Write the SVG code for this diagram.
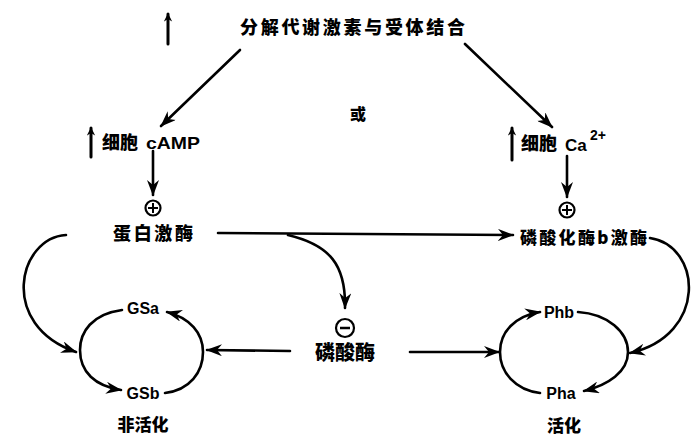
<svg xmlns="http://www.w3.org/2000/svg" width="696" height="440" viewBox="0 0 696 440">
<defs>
<marker id="ah" viewBox="0 0 16 12" refX="15" refY="6" markerWidth="16" markerHeight="12" markerUnits="userSpaceOnUse" orient="auto">
<path d="M0,0 L16,6 L0,12 L5,6 z" fill="#000"/>
</marker>
<marker id="up" viewBox="0 0 10 12" refX="9" refY="5" markerWidth="10" markerHeight="10" markerUnits="userSpaceOnUse" orient="auto">
<path d="M0,0 L10,5 L0,10 L3,5 z" fill="#000"/>
</marker>
</defs>
<style>
.t{font-family:"Noto Sans CJK SC","Noto Sans",sans-serif;font-weight:900;fill:#000}
.l{font-family:"Liberation Sans","DejaVu Sans",sans-serif;font-weight:bold;fill:#000}
.c{fill:none;stroke:#000;stroke-width:2.6;stroke-linecap:round}
.s{fill:none;stroke:#000;stroke-width:3;stroke-linecap:round}
.o{fill:#fff;stroke:#000;stroke-width:2.2}
</style>
<rect width="696" height="440" fill="#fff"/>
<g id="connectors">
<path class="c" d="M240,50 L161,126" marker-end="url(#ah)"/>
<path class="c" d="M465,44 L552,127" marker-end="url(#ah)"/>
<path class="c" d="M153,151 L153,195" marker-end="url(#ah)"/>
<path class="c" d="M567,156 L567,197" marker-end="url(#ah)"/>
<path class="c" d="M218,233 L513,235" marker-end="url(#ah)"/>
<path class="c" d="M288,235 C330,245 346,265 345,308" marker-end="url(#ah)"/>
<path class="c" d="M66,235 C18,238 -2,325 76,352" marker-end="url(#ah)"/>
<path class="c" d="M650,238 C702,246 708,335 630,353" marker-end="url(#ah)"/>
<path class="c" d="M290,351 L207,350" marker-end="url(#ah)"/>
<path class="c" d="M410,352 L499,352" marker-end="url(#ah)"/>
<path class="c" d="M122,310 C92,314 80,332 80,350 C80,372 95,386 121,390" marker-end="url(#ah)"/>
<path class="c" d="M165,393 C190,390 203,372 203,352 C203,333 190,318 167,312" marker-end="url(#ah)"/>
<path class="c" d="M540,393 C515,390 500,372 500,352 C500,332 515,316 540,312" marker-end="url(#ah)"/>
<path class="c" d="M578,312 C608,314 628,332 628,352 C628,372 608,385 584,391" marker-end="url(#ah)"/>
<path class="s" d="M168,44 L168,14" marker-end="url(#up)"/>
<path class="s" d="M91,157 L91,128" marker-end="url(#up)"/>
<path class="s" d="M512,160 L512,128" marker-end="url(#up)"/>
</g>
<g id="n_title"><text class="t" x="240" y="34" font-size="18" textLength="225" lengthAdjust="spacing">分解代谢激素与受体结合</text></g>
<g id="n_or"><text class="t" x="358" y="120" font-size="16" text-anchor="middle">或</text></g>
<g id="n_camp"><text class="t" x="102" y="149" font-size="18">细胞</text><text class="l" x="146" y="149" font-size="17" textLength="54" lengthAdjust="spacingAndGlyphs">cAMP</text></g>
<g id="n_ca"><text class="t" x="521" y="150" font-size="18">细胞</text><text class="l" x="565" y="151" font-size="17">Ca</text><text class="l" x="590" y="140" font-size="14">2+</text></g>
<g id="n_plus1"><circle class="o" cx="153" cy="208" r="7.5"/><path d="M153,203 L153,213 M148,208 L158,208" stroke="#000" stroke-width="2"/></g>
<g id="n_plus2"><circle class="o" cx="567" cy="210" r="7.5"/><path d="M567,205 L567,215 M562,210 L572,210" stroke="#000" stroke-width="2"/></g>
<g id="n_pk"><text class="t" x="113" y="240" font-size="18" textLength="80" lengthAdjust="spacing">蛋白激酶</text></g>
<g id="n_phk"><text class="t" x="520" y="244" font-size="17" textLength="127" lengthAdjust="spacing">磷酸化酶b激酶</text></g>
<g id="n_minus"><circle class="o" cx="345" cy="328" r="9"/><path d="M340,328 L350,328" stroke="#000" stroke-width="2.5"/></g>
<g id="n_ppase"><text class="t" x="345" y="360" font-size="20" text-anchor="middle">磷酸酶</text></g>
<g id="n_gsa"><text class="l" x="143" y="314" font-size="16" text-anchor="middle">GSa</text></g>
<g id="n_gsb"><text class="l" x="143" y="399" font-size="16" text-anchor="middle">GSb</text></g>
<g id="n_phb"><text class="l" x="559" y="318" font-size="16" text-anchor="middle">Phb</text></g>
<g id="n_pha"><text class="l" x="561" y="399" font-size="16" text-anchor="middle">Pha</text></g>
<g id="n_inact"><text class="t" x="143" y="431" font-size="17" text-anchor="middle">非活化</text></g>
<g id="n_act"><text class="t" x="564" y="432" font-size="17" text-anchor="middle">活化</text></g>
</svg>
